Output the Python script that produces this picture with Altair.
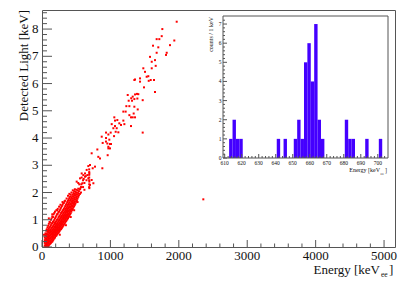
import altair as alt
import pandas as pd

FONT = "Liberation Serif"
AX = "#555555"
RED = "#ff0000"
BLUE = "#4400ff"

# ---------------- main scatter data ----------------
# dense band: (energy keV_ee, [detected light keV ...])
band = [
    (40, [0.05, 0.15, 0.25, 0.35]),
    (50, [0.02, 0.1, 0.2, 0.3, 0.42, 0.5]),
    (60, [0.05, 0.12, 0.22, 0.32, 0.45, 0.6]),
    (70, [0.03, 0.1, 0.18, 0.28, 0.38, 0.5, 0.65]),
    (80, [0.08, 0.16, 0.25, 0.35, 0.45, 0.58, 0.72]),
    (90, [0.02, 0.12, 0.22, 0.3, 0.4, 0.52, 0.62, 0.78]),
    (100, [0.06, 0.15, 0.25, 0.35, 0.45, 0.55, 0.68, 0.85]),
    (110, [0.1, 0.2, 0.3, 0.4, 0.5, 0.6, 0.72, 0.92]),
    (120, [0.12, 0.22, 0.32, 0.42, 0.52, 0.62, 0.75, 0.9]),
    (130, [0.15, 0.25, 0.35, 0.45, 0.55, 0.65, 0.8, 1.0]),
    (140, [0.18, 0.28, 0.38, 0.48, 0.58, 0.7, 0.85, 1.05]),
    (150, [0.2, 0.3, 0.4, 0.5, 0.6, 0.72, 0.88, 1.12]),
    (160, [0.24, 0.34, 0.44, 0.54, 0.64, 0.76, 0.92, 1.1]),
    (170, [0.28, 0.38, 0.48, 0.58, 0.68, 0.8, 0.95, 1.2]),
    (180, [0.32, 0.42, 0.52, 0.62, 0.72, 0.84, 1.0, 1.25]),
    (190, [0.35, 0.45, 0.55, 0.65, 0.75, 0.88, 1.05, 1.3]),
    (200, [0.4, 0.5, 0.6, 0.7, 0.8, 0.92, 1.1]),
    (210, [0.42, 0.52, 0.62, 0.72, 0.82, 0.95, 1.15, 1.35]),
    (220, [0.46, 0.56, 0.66, 0.76, 0.86, 1.0, 1.2]),
    (230, [0.5, 0.6, 0.7, 0.8, 0.9, 1.02, 1.22, 1.4]),
    (240, [0.52, 0.62, 0.72, 0.82, 0.94, 1.08, 1.28]),
    (250, [0.56, 0.66, 0.76, 0.86, 0.98, 1.12, 1.3, 1.48]),
    (260, [0.6, 0.7, 0.8, 0.9, 1.02, 1.15, 1.35]),
    (270, [0.64, 0.74, 0.84, 0.94, 1.06, 1.2, 1.4, 1.55]),
    (280, [0.66, 0.78, 0.88, 0.98, 1.1, 1.25, 1.45]),
    (290, [0.7, 0.82, 0.92, 1.02, 1.14, 1.28, 1.5]),
    (300, [0.74, 0.85, 0.95, 1.06, 1.18, 1.32, 1.55]),
    (310, [0.78, 0.9, 1.0, 1.1, 1.22, 1.36, 1.6]),
    (320, [0.82, 0.94, 1.04, 1.14, 1.26, 1.4, 1.62]),
    (330, [0.86, 0.98, 1.08, 1.18, 1.3, 1.45, 1.68]),
    (340, [0.9, 1.02, 1.12, 1.22, 1.35, 1.5, 1.7]),
    (350, [0.95, 1.06, 1.16, 1.28, 1.4, 1.55]),
    (360, [0.98, 1.1, 1.2, 1.32, 1.45, 1.6, 1.78]),
    (370, [1.02, 1.14, 1.25, 1.36, 1.5, 1.65]),
    (380, [1.06, 1.18, 1.3, 1.42, 1.55, 1.7, 1.88]),
    (390, [1.1, 1.22, 1.34, 1.46, 1.6, 1.75]),
    (400, [1.14, 1.26, 1.38, 1.5, 1.64, 1.8, 1.95]),
    (410, [1.2, 1.32, 1.44, 1.56, 1.7, 1.85]),
    (420, [1.24, 1.36, 1.48, 1.6, 1.75, 1.92]),
    (430, [1.3, 1.42, 1.54, 1.66, 1.8, 2.0]),
    (440, [1.36, 1.48, 1.6, 1.72, 1.86]),
    (450, [1.4, 1.52, 1.65, 1.78, 1.92, 2.08]),
    (460, [1.46, 1.58, 1.7, 1.84, 1.98]),
    (470, [1.5, 1.62, 1.76, 1.9, 2.05]),
    (480, [1.55, 1.68, 1.82, 1.95, 2.12]),
    (490, [1.6, 1.74, 1.88, 2.02]),
    (500, [1.66, 1.8, 1.94, 2.1]),
    (510, [1.72, 1.86, 2.0]),
    (520, [1.78, 1.92, 2.08]),
    (530, [1.84, 1.98, 2.14]),
    (540, [1.9, 2.05]),
    (555, [1.95, 2.12]),
    (570, [2.0, 2.2]),
]

sparse_energy = [
    1969, 1759, 1750, 1715, 1676, 1934, 1623, 1700, 1871, 1676, 1823, 1813, 1579, 1652,
    1604, 1662, 1481, 1604, 1506, 1530, 1554, 1433, 1350, 1360, 1589, 1637, 1560, 1491,
    1433, 1652, 1408, 1389, 1360, 1253, 1326, 1304, 1350, 1316, 1394, 1267, 1472, 1233,
    1277, 1350, 1223, 1189, 1340, 1399, 1277, 1326, 1301, 1360, 1057, 1067, 1101, 1189,
    1130, 1019, 1067, 1155, 1204, 1043, 1092, 1301, 1077, 1116, 1472, 936, 970, 1004,
    1053, 873, 936, 984, 955, 1009, 970, 994, 887, 809,
    935, 994, 970, 726, 823, 848, 960, 882, 702, 677, 775, 741, 653, 580, 604, 629, 692,
    663, 677, 692, 702, 692, 629, 556, 507, 726, 751, 590,
    690, 690, 690, 690, 690, 690, 690,
    560, 575, 600, 610, 620, 640, 650, 545, 580, 530, 600, 620,
    30, 100, 150, 220, 300, 350, 420, 470, 520, 260,
    2358,
]
sparse_light = [
    8.27, 8.0, 7.74, 7.63, 7.63, 7.58, 7.39, 7.33, 7.41, 7.13, 7.13, 7.05, 6.98, 6.86,
    6.8, 6.65, 6.56, 6.56, 6.43, 6.25, 6.27, 6.19, 6.13, 6.15, 6.13, 6.13, 6.1, 5.86,
    6.07, 5.69, 5.61, 5.62, 5.6, 5.58, 5.52, 5.46, 5.43, 5.37, 5.45, 5.37, 5.39, 5.17,
    5.17, 5.15, 4.97, 4.97, 4.9, 5.05, 4.84, 4.76, 4.76, 4.76, 4.76, 4.64, 4.66, 4.64,
    4.54, 4.51, 4.44, 4.48, 4.51, 4.36, 4.36, 4.44, 4.23, 4.21, 4.2, 4.2, 4.13, 4.2,
    4.07, 4.05, 4.0, 3.94, 3.8, 3.78, 3.62, 3.62, 3.82, 3.58,
    3.87, 3.78, 3.68, 3.44, 3.31, 3.25, 3.37, 2.89, 3.01, 2.97, 2.95, 2.89, 2.83, 2.7,
    2.64, 2.7, 2.7, 2.64, 2.52, 2.4, 2.28, 2.16, 2.58, 2.52, 2.4, 2.46, 2.34, 2.34,
    2.2, 2.3, 2.45, 2.55, 2.65, 2.75, 2.85,
    2.15, 2.3, 2.2, 2.5, 2.35, 2.6, 2.45, 2.3, 2.55, 2.35, 2.45, 2.1,
    0.45, 1.05, 1.2, 1.35, 1.65, 0.8, 1.1, 1.35, 1.65, 0.45,
    1.75,
]

main_x_labels = [0, 1000, 2000, 3000, 4000, 5000]
main_y_labels = [0, 1, 2, 3, 4, 5, 6, 7, 8]

# ---------------- inset histogram data ----------------
hist_start = [612.6, 614.6, 616.6, 618.6, 640.6, 644.6, 650.6, 652.6, 654.6, 656.6,
              658.6, 660.6, 662.6, 664.6, 666.6, 680.6, 682.6, 684.6, 692.6, 700.6]
hist_count = [1, 2, 1, 1, 1, 1, 1, 2, 1, 5, 6, 4, 7, 2, 1, 2, 1, 1, 1, 1]
bin_width = 2
inset_x_labels = [610, 620, 630, 640, 650, 660, 670, 680, 690, 700]
inset_y_labels = [0, 1, 2, 3, 4, 5, 6, 7]

# ---------------- layout (plot-area pixels) ----------------
W, H = 353, 237
IX0, IX1, IY0, IY1 = 181, 346, 6, 148  # inset frame inside plot area

rows = [(e, l) for e, ls in band for l in ls] + list(zip(sparse_energy, sparse_light))
scatter_df = pd.DataFrame(rows, columns=["energy", "light"])

x_main = alt.Scale(domain=[0, 5160], nice=False, zero=False)
y_main = alt.Scale(domain=[0, 8.7], nice=False, zero=False)

points = alt.Chart(scatter_df).mark_square(size=4, color=RED, opacity=1).encode(
    x=alt.X("energy:Q", scale=x_main, axis=None),
    y=alt.Y("light:Q", scale=y_main, axis=None),
)

mx_major = pd.DataFrame({"v": main_x_labels})
mx_minor = pd.DataFrame({"v": [v for v in range(200, 5160, 200) if v % 1000]})
my_major = pd.DataFrame({"v": main_y_labels})
my_minor = pd.DataFrame({"v": [round(i * 0.2, 1) for i in range(1, 44) if i % 5]})


def xticks(df, scale, y0, length):
    return alt.Chart(df).mark_rule(color=AX, strokeWidth=1).encode(
        x=alt.X("v:Q", scale=scale, axis=None),
        y=alt.value(y0), y2=alt.value(y0 - length))


def yticks(df, scale, x0, length):
    return alt.Chart(df).mark_rule(color=AX, strokeWidth=1).encode(
        y=alt.Y("v:Q", scale=scale, axis=None),
        x=alt.value(x0), x2=alt.value(x0 + length))


def xlabels(df, scale, y0, size, baseline="alphabetic"):
    return alt.Chart(df).mark_text(font=FONT, fontSize=size, baseline=baseline,
                                   align="center", color="#111111").encode(
        x=alt.X("v:Q", scale=scale, axis=None), y=alt.value(y0),
        text=alt.Text("v:Q", format="d"))


def ylabels(df, scale, x0, size):
    return alt.Chart(df).mark_text(font=FONT, fontSize=size, baseline="middle",
                                   align="right", color="#111111").encode(
        y=alt.Y("v:Q", scale=scale, axis=None), x=alt.value(x0),
        text=alt.Text("v:Q", format="d"))


def label(text, x, y, size, align="left", angle=0):
    return alt.Chart(pd.DataFrame({"t": [text]})).mark_text(
        font=FONT, fontSize=size, align=align, baseline="alphabetic",
        angle=angle, color="#111111").encode(
        x=alt.value(x), y=alt.value(y), text="t:N")


main = alt.layer(
    points,
    xticks(mx_major, x_main, H, 7), xticks(mx_minor, x_main, H, 3.5),
    yticks(my_major, y_main, 0, 10), yticks(my_minor, y_main, 0, 5),
    xlabels(mx_major, x_main, H + 12.5, 13),
    ylabels(my_major, y_main, -3.5, 13),
    label("Energy [keV", 338, 263.5, 13, align="right"),
    label("ee", 339, 267, 7.5),
    label("]", 347, 263.5, 13),
    label("Detected Light [keV]", -14, 0, 13, align="right", angle=270),
)

# ---------------- inset ----------------
x_in = alt.Scale(domain=[609, 706], range=[IX0, IX1], nice=False, zero=False)
y_in = alt.Scale(domain=[0, 7.42], range=[IY1, IY0], nice=False, zero=False)

hist_df = pd.DataFrame({"start": hist_start, "count": hist_count})
hist_df["end"] = hist_df["start"] + bin_width
hist_df["zero"] = 0

frame_df = pd.DataFrame({"a": [0]})
inset_bg = alt.Chart(frame_df).mark_rect(fill="white").encode(
    x=alt.value(IX0), x2=alt.value(IX1), y=alt.value(IY0), y2=alt.value(IY1))
inset_frame = alt.Chart(frame_df).mark_rect(fill=None, stroke=AX, strokeWidth=1).encode(
    x=alt.value(IX0), x2=alt.value(IX1), y=alt.value(IY0), y2=alt.value(IY1))

bars = alt.Chart(hist_df).mark_rect(color=BLUE).encode(
    x=alt.X("start:Q", scale=x_in, axis=None), x2="end:Q",
    y=alt.Y("count:Q", scale=y_in, axis=None), y2="zero:Q")

ix_major = pd.DataFrame({"v": inset_x_labels})
ix_minor = pd.DataFrame({"v": [v for v in range(610, 706, 2) if v % 10]})
iy_major = pd.DataFrame({"v": inset_y_labels})
iy_minor = pd.DataFrame({"v": [round(i * 0.2, 1) for i in range(1, 37) if i % 5]})

inset = alt.layer(
    inset_bg, bars, inset_frame,
    xticks(ix_major, x_in, IY1, 4), xticks(ix_minor, x_in, IY1, 2),
    yticks(iy_major, y_in, IX0, 4), yticks(iy_minor, y_in, IX0, 2),
    xlabels(ix_major, x_in, IY1 + 4.5, 5.5, baseline="middle"),
    ylabels(iy_major, y_in, IX0 - 1.5, 5.5),
    label("Energy [keV", 338, 161.5, 6, align="right"),
    label("ee", 338.5, 165, 4),
    label("]", 343, 161.5, 6),
    label("counts / 1 keV", 170.5, 7, 6, align="right", angle=270),
)

chart = alt.layer(main, inset).resolve_scale(
    x="independent", y="independent"
).properties(
    width=W, height=H,
    autosize=alt.AutoSizeParams(type="none"),
    padding={"left": 34, "top": 2, "right": 10, "bottom": 32},
).configure_view(stroke=AX, strokeWidth=1)

chart.save("out.html", embed_options={"renderer": "svg", "actions": False})
